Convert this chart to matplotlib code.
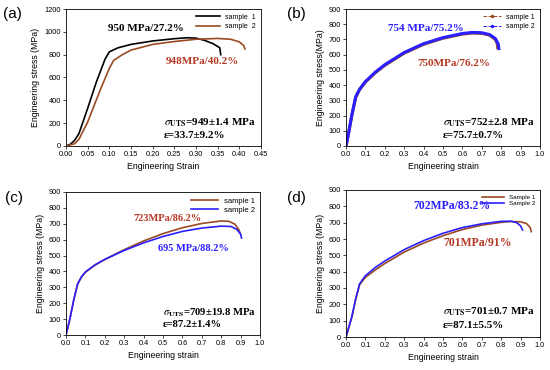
import matplotlib
matplotlib.use("Agg")
import matplotlib.pyplot as plt
from matplotlib.lines import Line2D

plt.rcParams['font.family'] = ['Liberation Sans', 'DejaVu Sans']
plt.rcParams['mathtext.fontset'] = 'stix'

BROWN = '#9a4a22'
BLUE = '#2a1fff'
RED = '#b53a25'

# (a) strain / stress
a_s1_x = [0.0, 0.01, 0.02, 0.03, 0.05, 0.07, 0.09, 0.10, 0.12, 0.15, 0.20, 0.25, 0.28, 0.30, 0.32, 0.34, 0.355, 0.357]
a_s1_y = [0, 15, 50, 110, 330, 560, 760, 825, 860, 890, 920, 940, 948, 945, 925, 895, 860, 800]
a_s2_x = [0.0, 0.02, 0.03, 0.05, 0.08, 0.10, 0.11, 0.13, 0.15, 0.20, 0.25, 0.30, 0.35, 0.38, 0.40, 0.41, 0.413]
a_s2_y = [0, 20, 60, 210, 500, 680, 750, 800, 840, 890, 915, 935, 942, 935, 912, 880, 850]

# (b)
b_s1_x = [0.0, 0.01, 0.03, 0.05, 0.07, 0.10, 0.15, 0.20, 0.30, 0.40, 0.50, 0.60, 0.65, 0.70, 0.74, 0.77, 0.78, 0.782]
b_s1_y = [0, 60, 200, 320, 370, 420, 480, 530, 610, 668, 708, 735, 742, 740, 728, 700, 670, 645]
b_s2_x = [0.0, 0.01, 0.03, 0.05, 0.07, 0.10, 0.15, 0.20, 0.30, 0.40, 0.50, 0.60, 0.65, 0.70, 0.74, 0.77, 0.785, 0.788]
b_s2_y = [0, 62, 203, 323, 373, 423, 484, 534, 614, 672, 712, 739, 746, 744, 732, 706, 670, 640]

# (c)
c_s1_x = [0.0, 0.02, 0.04, 0.06, 0.08, 0.10, 0.15, 0.20, 0.30, 0.40, 0.50, 0.60, 0.70, 0.80, 0.84, 0.87, 0.89, 0.90]
c_s1_y = [0, 100, 220, 320, 365, 395, 440, 475, 537, 592, 638, 675, 702, 718, 715, 698, 665, 635]
c_s2_x = [0.0, 0.02, 0.04, 0.06, 0.08, 0.10, 0.15, 0.20, 0.30, 0.40, 0.50, 0.60, 0.70, 0.80, 0.85, 0.88, 0.90, 0.905]
c_s2_y = [0, 102, 222, 322, 367, 397, 442, 476, 532, 580, 620, 652, 673, 685, 683, 665, 635, 610]

# (d)
d_s1_x = [0.0, 0.03, 0.05, 0.07, 0.10, 0.15, 0.20, 0.30, 0.40, 0.50, 0.60, 0.70, 0.80, 0.85, 0.90, 0.93, 0.95, 0.955]
d_s1_y = [0, 120, 230, 320, 365, 410, 450, 520, 575, 620, 658, 685, 702, 707, 705, 695, 670, 645]
d_s2_x = [0.0, 0.03, 0.05, 0.07, 0.10, 0.15, 0.20, 0.30, 0.40, 0.50, 0.60, 0.70, 0.80, 0.85, 0.88, 0.90, 0.91]
d_s2_y = [0, 125, 235, 325, 375, 425, 465, 535, 590, 635, 670, 693, 708, 709, 700, 680, 655]

W, H = 550, 370
fig = plt.figure(figsize=(5.5, 3.7), dpi=100)


def make_axes(l, r, t, b):
    return fig.add_axes([l / W, 1 - b / H, (r - l) / W, (b - t) / H])


def style(ax, xmax, xstep, ymax, ystep, xlabel, ylabel, xfmt):
    ax.set_xlim(0, xmax)
    ax.set_ylim(0, ymax)
    xt = [i * xstep for i in range(int(round(xmax / xstep)) + 1)]
    ax.set_xticks(xt)
    ax.set_xticklabels([xfmt.format(v) for v in xt])
    ax.set_yticks(range(0, ymax + 1, ystep))
    ax.tick_params(labelsize=5.3, length=2, width=0.5, pad=1.5)
    for sp in ax.spines.values():
        sp.set_linewidth(0.6)
    ax.set_xlabel(xlabel, fontsize=6.3, labelpad=3)
    ax.set_ylabel(ylabel, fontsize=6.3, labelpad=3)


def serif(ax, x, y, s, color='black', size=8):
    ax.text(x, y, s, color=color, fontsize=size, fontweight='bold',
            family=['Liberation Serif', 'DejaVu Serif'], va='center')


# ---- (a)
ax = make_axes(66, 261, 9, 146)
ax.plot(a_s1_x, a_s1_y, color='black', lw=1.2, label='sample  1')
ax.plot(a_s2_x, a_s2_y, color=BROWN, lw=1.2, label='sample  2')
style(ax, 0.45, 0.05, 1200, 200, 'Engineering Strain', 'Engineering stress (MPa)', '{:.2f}')
ax.legend(loc='upper right', fontsize=5, frameon=False, handlelength=3.5, borderaxespad=0.3, labelspacing=0.3)
serif(ax, 0.097, 1025, '950 MPa/27.2%')
serif(ax, 0.23, 736, '948MPa/40.2%', RED)
serif(ax, 0.225, 200, r'$\sigma_{\mathbf{UTS}}$=949±1.4 MPa')
serif(ax, 0.225, 95, 'ε=33.7±9.2%')

# ---- (b)
ax = make_axes(346, 540, 9, 146)
ax.plot(b_s1_x, b_s1_y, color=BROWN, lw=2.2)
ax.plot(b_s2_x, b_s2_y, color=BLUE, lw=2.2)
style(ax, 1.0, 0.1, 900, 100, 'Engineering strain', 'Engineering stress(MPa)', '{:.1f}')
handles = [Line2D([], [], color=BROWN, ls='--', lw=0.7, marker='o', ms=1.5),
           Line2D([], [], color=BLUE, ls='--', lw=0.7, marker='o', ms=1.5)]
ax.legend(handles, ['sample 1', 'sample 2'], loc='upper right', fontsize=5, frameon=False,
          handlelength=2.5, borderaxespad=0.3, labelspacing=0.3)
serif(ax, 0.216, 769, '754 MPa/75.2%', BLUE)
serif(ax, 0.366, 545, '750MPa/76.2%', RED)
serif(ax, 0.5, 151, r'$\sigma_{\mathbf{UTS}}$=752±2.8 MPa')
serif(ax, 0.5, 72, 'ε=75.7±0.7%')

# ---- (c)
ax = make_axes(66, 260, 192, 335)
ax.plot(c_s1_x, c_s1_y, color=BROWN, lw=1.2, label='sample 1')
ax.plot(c_s2_x, c_s2_y, color=BLUE, lw=1.2, label='sample 2')
style(ax, 1.0, 0.1, 900, 100, 'Engineering strain', 'Engineering stress (MPa)', '{:.1f}')
ax.legend(loc='upper right', fontsize=5.5, frameon=False, handlelength=3.5, borderaxespad=0.3, labelspacing=0.2)
serif(ax, 0.345, 736, '723MPa/86.2%', RED, 7.5)
serif(ax, 0.474, 547, '695 MPa/88.2%', BLUE, 7.5)
serif(ax, 0.5, 138, r'$\sigma_{\mathbf{UTS}}$=709±19.8 MPa', size=7.7)
serif(ax, 0.5, 63, 'ε=87.2±1.4%', size=7.7)

# ---- (d)
ax = make_axes(346, 540, 190, 337)
ax.plot(d_s1_x, d_s1_y, color=BROWN, lw=1.2, label='Sample 1')
ax.plot(d_s2_x, d_s2_y, color=BLUE, lw=1.2, label='Sample 2')
style(ax, 1.0, 0.1, 900, 100, 'Engineering strain', 'Engineering stress (MPa)', '{:.1f}')
ax.legend(loc='upper right', fontsize=4.5, frameon=False, handlelength=3.5, borderaxespad=0.3, labelspacing=0.2)
serif(ax, 0.345, 802, '702MPa/83.2%', BLUE, 8.5)
serif(ax, 0.5, 576, '701MPa/91%', RED, 8.5)
serif(ax, 0.5, 153, r'$\sigma_{\mathbf{UTS}}$=701±0.7 MPa')
serif(ax, 0.5, 72, 'ε=87.1±5.5%')

# panel labels
for lab, x, y in [('(a)', 3, 14), ('(b)', 287, 14), ('(c)', 5, 198), ('(d)', 287, 198)]:
    fig.text(x / W, 1 - y / H, lab, fontsize=11, va='center', ha='left')

fig.savefig('out.png', dpi=100)
